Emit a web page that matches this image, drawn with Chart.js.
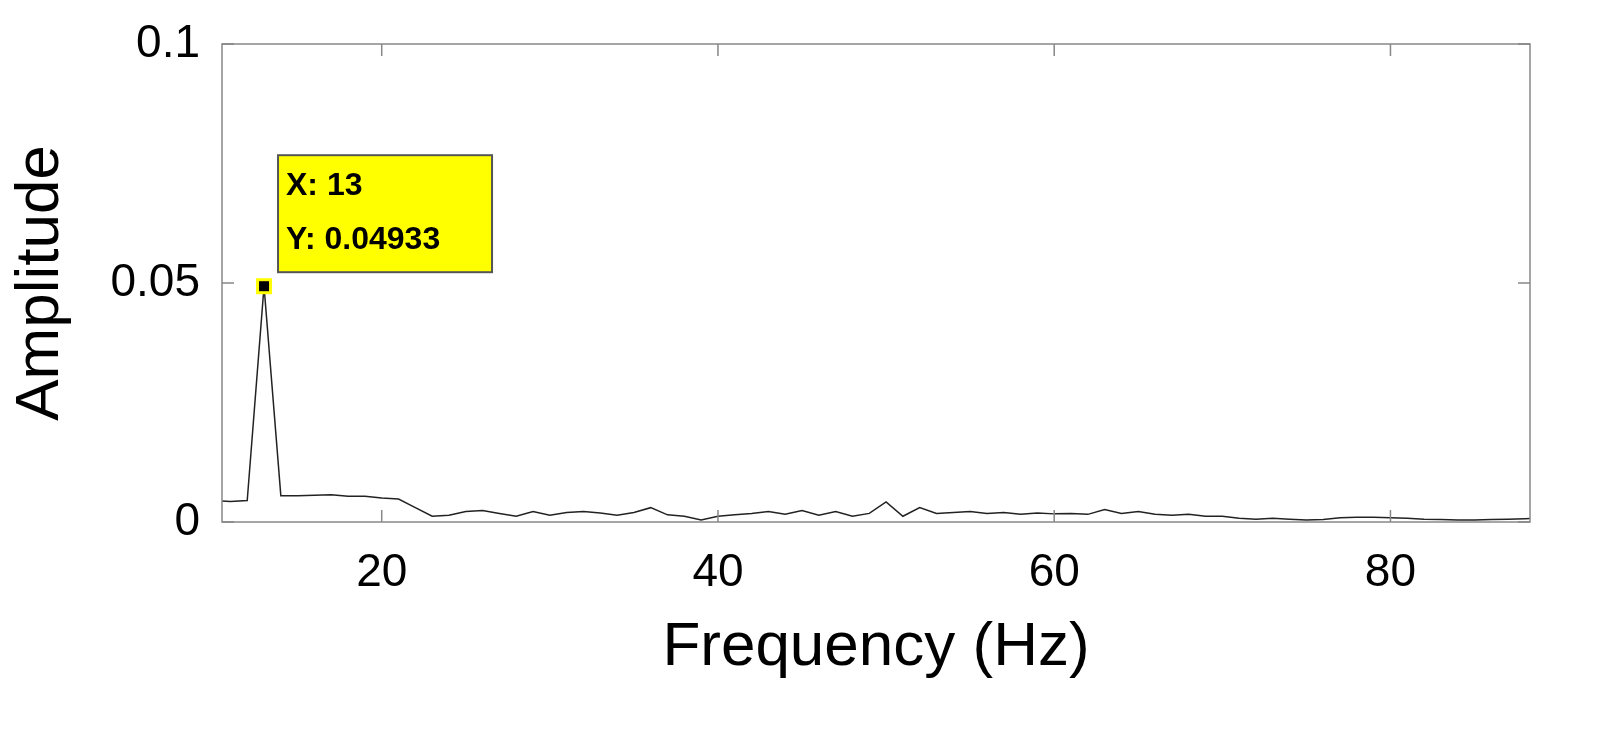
<!DOCTYPE html>
<html><head><meta charset="utf-8">
<script src="https://cdn.jsdelivr.net/npm/chart.js@4/dist/chart.umd.min.js"></script>
<style>html,body{margin:0;background:#fff}#w{width:1620px;height:739px}</style>
</head><body><div id="w"><canvas id="c"></canvas></div>
<script>
const freqs = [10,11,12,13,14,15,16,17,18,19,20,21,22,23,24,25,26,27,28,29,30,31,32,33,34,35,36,37,38,39,40,41,42,43,44,45,46,47,48,49,50,51,52,53,54,55,56,57,58,59,60,61,62,63,64,65,66,67,68,69,70,71,72,73,74,75,76,77,78,79,80,81,82,83,84,85,86,87,88,89];
const amps = [0.0045,0.0043,0.0045,0.04933,0.0055,0.0055,0.0056,0.0057,0.0054,0.0054,0.005,0.0048,0.003,0.0012,0.0014,0.0022,0.0024,0.0018,0.0012,0.0022,0.0014,0.002,0.0022,0.0019,0.0014,0.002,0.003,0.0015,0.0012,0.0004,0.0012,0.0015,0.0018,0.0022,0.0016,0.0024,0.0014,0.0022,0.0012,0.0018,0.0042,0.0012,0.003,0.0018,0.002,0.0022,0.0018,0.002,0.0016,0.0019,0.0017,0.0018,0.0016,0.0026,0.0018,0.0022,0.0016,0.0014,0.0016,0.0012,0.0012,0.0008,0.0006,0.0008,0.0006,0.0004,0.0005,0.0009,0.001,0.001,0.0009,0.0008,0.0006,0.0005,0.0004,0.0004,0.0005,0.0006,0.0007,0.0008];
const xTicks = [20,40,60,80];
const yTicks = [0,0.05,0.1];
const peakX = 13, peakY = 0.04933;

const frame = {
  id:'frame',
  afterDatasetsDraw(ch){
    const {ctx,chartArea:a,scales:{x,y}} = ch;
    ctx.save();
    ctx.strokeStyle='#888';ctx.lineWidth=1.5;
    ctx.strokeRect(a.left,a.top,a.right-a.left,a.bottom-a.top);
    ctx.beginPath();
    xTicks.forEach(t=>{const p=x.getPixelForValue(t);ctx.moveTo(p,a.bottom);ctx.lineTo(p,a.bottom-12);ctx.moveTo(p,a.top);ctx.lineTo(p,a.top+12);});
    yTicks.forEach(t=>{const p=y.getPixelForValue(t);ctx.moveTo(a.left,p);ctx.lineTo(a.left+12,p);ctx.moveTo(a.right,p);ctx.lineTo(a.right-12,p);});
    ctx.stroke();
    const px=x.getPixelForValue(peakX), py=y.getPixelForValue(peakY);
    ctx.fillStyle='#ffff00';ctx.fillRect(px-8,py-8,16,16);
    ctx.fillStyle='#000';ctx.fillRect(px-5,py-5,10,10);
    const bx=px+14, by=py-131, bw=214, bh=117;
    ctx.fillStyle='#ffff00';ctx.fillRect(bx,by,bw,bh);
    ctx.strokeStyle='#555';ctx.lineWidth=2;ctx.strokeRect(bx,by,bw,bh);
    ctx.fillStyle='#000';ctx.font='bold 32px "Liberation Sans", Arial';ctx.textBaseline='middle';ctx.textAlign='left';
    ctx.fillText('X: '+peakX,bx+8,by+31);
    ctx.fillText('Y: '+peakY,bx+8,by+85);
    ctx.restore();
  }
};

new Chart(document.getElementById('c'),{
  type:'line',
  data:{datasets:[{data:freqs.map((f,i)=>({x:f,y:amps[i]})),borderColor:'#222',borderWidth:1.5,pointRadius:0,tension:0}]},
  options:{
    responsive:true,maintainAspectRatio:false,animation:false,
    layout:{padding:{top:44,right:90,left:0,bottom:50}},
    plugins:{legend:{display:false},tooltip:{enabled:false}},
    scales:{
      x:{type:'linear',min:10.5,max:88.3,
        afterBuildTicks(s){s.ticks=xTicks.map(v=>({value:v}));},
        afterFit(s){s.height=167;},
        grid:{display:false},border:{display:false},
        ticks:{color:'#000',font:{size:46,family:'"Liberation Sans", Arial'},padding:16},
        title:{display:true,text:'Frequency (Hz)',color:'#000',font:{size:62,family:'"Liberation Sans", Arial'},padding:{top:0}}},
      y:{min:0,max:0.1,
        afterBuildTicks(s){s.ticks=yTicks.map(v=>({value:v}));},
        afterFit(s){s.width=222;},
        grid:{display:false},border:{display:false},
        ticks:{color:'#000',font:{size:46,family:'"Liberation Sans", Arial'},padding:14,callback:v=>String(v)},
        title:{display:true,text:'Amplitude',color:'#000',font:{size:62,family:'"Liberation Sans", Arial'},padding:{bottom:0}}}
    }
  },
  plugins:[frame]
});
</script></body></html>
